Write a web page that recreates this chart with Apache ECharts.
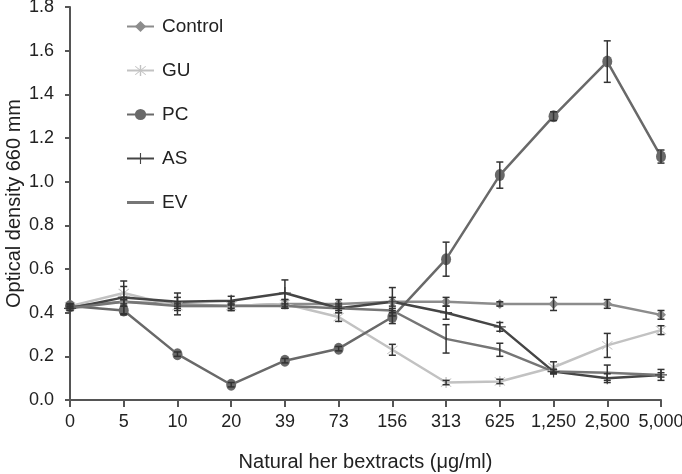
<!DOCTYPE html>
<html>
<head>
<meta charset="utf-8">
<script src="https://cdn.jsdelivr.net/npm/echarts@6/dist/echarts.min.js"></script>
<style>
html, body { margin: 0; padding: 0; background: #fff; }
#chart { width: 682px; height: 474px; }
</style>
</head>
<body>
<div id="chart"></div>
<script>
var doses = ['0', '5', '10', '20', '39', '73', '156', '313', '625', '1,250', '2,500', '5,000'];
var yTicks = [0, 1.8, 0.2];

var controlVals = [0.43, 0.45, 0.44, 0.43, 0.44, 0.44, 0.45, 0.45, 0.44, 0.44, 0.44, 0.39];
var controlErr  = [0.01, 0.02, 0.05, 0.02, 0.02, 0.02, 0.02, 0.02, 0.01, 0.03, 0.02, 0.02];
var guVals = [0.43, 0.49, 0.43, 0.43, 0.44, 0.38, 0.23, 0.08, 0.085, 0.15, 0.25, 0.32];
var guErr  = [0.01, 0.03, 0.02, 0.02, 0.02, 0.02, 0.025, 0.01, 0.01, 0.025, 0.055, 0.02];
var pcVals = [0.43, 0.41, 0.21, 0.07, 0.18, 0.235, 0.38, 0.645, 1.03, 1.30, 1.55, 1.115];
var pcErr  = [0.01, 0.02, 0.01, 0.01, 0.01, 0.01, 0.03, 0.078, 0.06, 0.02, 0.095, 0.03];
var asVals = [0.42, 0.47, 0.45, 0.455, 0.49, 0.42, 0.45, 0.40, 0.335, 0.13, 0.10, 0.115];
var asErr  = [0.01, 0.075, 0.02, 0.02, 0.06, 0.02, 0.065, 0.03, 0.02, 0.01, 0.02, 0.025];
var evVals = [0.42, 0.45, 0.43, 0.43, 0.43, 0.42, 0.41, 0.28, 0.23, 0.13, 0.125, 0.115];
var evErr  = [0.01, 0.01, 0.01, 0.01, 0.01, 0.01, 0.01, 0.065, 0.03, 0.01, 0.035, 0.01];

var font = 'Liberation Sans, Arial, sans-serif';
var asterisk = 'path://M9,0H11V20H9Z M2,3L3,2L18,17L17,18Z M18,3L17,2L2,17L3,18Z';
var plus = 'path://M9,0H11V9H20V11H11V20H9V11H0V9H9Z';

function errData(vals, errs) {
    return vals.map(function (v, i) { return [i, v - errs[i], v + errs[i]]; });
}

function errSeries(vals, errs) {
    return {
        type: 'custom',
        data: errData(vals, errs),
        z: 5,
        silent: true,
        renderItem: function (params, api) {
            var lo = api.coord([api.value(0), api.value(1)]);
            var hi = api.coord([api.value(0), api.value(2)]);
            var w = 3.5;
            var st = { stroke: '#333', lineWidth: 1.5 };
            return {
                type: 'group',
                children: [
                    { type: 'line', shape: { x1: lo[0], y1: lo[1], x2: hi[0], y2: hi[1] }, style: st },
                    { type: 'line', shape: { x1: lo[0] - w, y1: lo[1], x2: lo[0] + w, y2: lo[1] }, style: st },
                    { type: 'line', shape: { x1: hi[0] - w, y1: hi[1], x2: hi[0] + w, y2: hi[1] }, style: st }
                ]
            };
        }
    };
}

function lineSeries(name, vals, color, symbol, size) {
    return {
        name: name,
        type: 'line',
        data: vals,
        symbol: symbol,
        symbolSize: size,
        showSymbol: symbol !== 'none',
        lineStyle: { color: color, width: 2.5 },
        itemStyle: { color: color },
        z: 3
    };
}

var dom = document.getElementById('chart');
var myChart = echarts.init(dom);
var option = {
    animation: false,
    backgroundColor: '#fff',
    textStyle: { fontFamily: font },
    grid: { left: 70, right: 21, top: 7, bottom: 74, containLabel: false, outerBoundsMode: 'none' },
    legend: {
        orient: 'vertical',
        left: 121,
        top: 12,
        itemWidth: 27,
        itemHeight: 14,
        itemGap: 25,
        data: ['Control', 'GU', 'PC', 'AS', { name: 'EV', icon: 'path://M0,0H27V3H0Z' }],
        textStyle: { fontSize: 19, color: '#222', fontFamily: font, padding: [0, 0, 0, 3] }
    },
    xAxis: {
        type: 'category',
        data: doses,
        boundaryGap: false,
        name: 'Natural her bextracts (\u03bcg/ml)',
        nameLocation: 'middle',
        nameGap: 52,
        nameTextStyle: { fontSize: 20, color: '#222', fontFamily: font },
        axisLine: { lineStyle: { color: '#555', width: 2 } },
        axisTick: { alignWithLabel: true, length: 7, lineStyle: { color: '#555', width: 2 } },
        axisLabel: { fontSize: 18, color: '#222', margin: 13, interval: 0, fontFamily: font }
    },
    yAxis: {
        type: 'value',
        min: yTicks[0],
        max: yTicks[1],
        interval: yTicks[2],
        name: 'Optical density 660 mm',
        nameLocation: 'middle',
        nameGap: 46,
        nameMoveOverlap: false,
        nameTextStyle: { fontSize: 20, color: '#222', fontFamily: font },
        splitLine: { show: false },
        axisLine: { show: true, lineStyle: { color: '#555', width: 2 } },
        axisTick: { show: true, length: 5, lineStyle: { color: '#555', width: 2 } },
        axisLabel: {
            fontSize: 18, color: '#222', margin: 16, fontFamily: font,
            formatter: function (v) { return v.toFixed(1); }
        }
    },
    series: [
        lineSeries('Control', controlVals, '#8c8c8c', 'diamond', 10),
        lineSeries('GU', guVals, '#c2c2c2', asterisk, 11),
        lineSeries('PC', pcVals, '#696969', 'circle', [10, 12]),
        lineSeries('AS', asVals, '#454545', plus, 12),
        lineSeries('EV', evVals, '#767676', 'none', 0),
        errSeries(controlVals, controlErr),
        errSeries(guVals, guErr),
        errSeries(pcVals, pcErr),
        errSeries(asVals, asErr),
        errSeries(evVals, evErr)
    ]
};
if (option && typeof option === "object") {
    myChart.setOption(option, true);
}
</script>
</body>
</html>
